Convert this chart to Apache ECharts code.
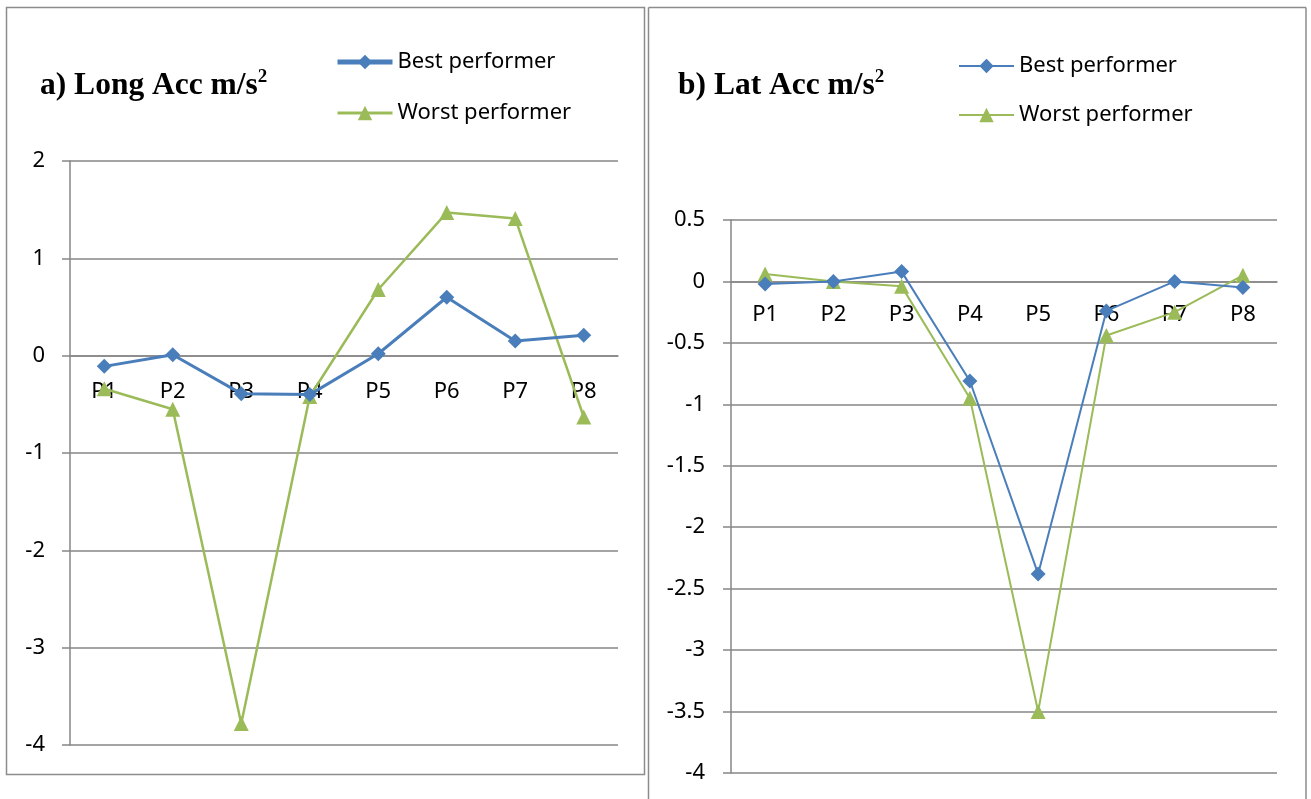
<!DOCTYPE html>
<html><head><meta charset="utf-8">
<script src="https://cdn.jsdelivr.net/npm/echarts@6/dist/echarts.min.js"></script>
<style>html,body{margin:0;padding:0;background:#fff}#c{width:1311px;height:799px}</style>
</head><body><div id="c"></div>
<script>
const categories = ['P1','P2','P3','P4','P5','P6','P7','P8'];
const longBest  = [-0.11, 0.01, -0.39, -0.40, 0.02, 0.60, 0.15, 0.21];
const longWorst = [-0.34, -0.55, -3.78, -0.42, 0.68, 1.47, 1.41, -0.63];
const latBest   = [-0.02, 0.00, 0.08, -0.81, -2.38, -0.24, 0.00, -0.05];
const latWorst  = [0.06, 0.00, -0.04, -0.95, -3.50, -0.44, -0.25, 0.05];
const seriesNames = ['Best performer','Worst performer'];
const titleMain = ['a) Long Acc m/s','b) Lat Acc m/s'];
const titleSup = '2';

const BLUE = '#4A7EBB', GREEN = '#9BBB59', GRID = '#868686';
const FONT = 'Noto Sans';

// grid geometry
const G = [
  {left:70, right:618, top:161, bottom:745, min:-4, max:2, interval:1, labelMargin:25, yMargin:25},
  {left:731, right:1277, top:220, bottom:773, min:-4, max:0.5, interval:0.5, labelMargin:22, yMargin:26}
];
function zeroOffset(g){
  const zeroY = g.top + (g.max - 0) / (g.max - g.min) * (g.bottom - g.top);
  return zeroY - g.bottom;
}

function xAxis(i){
  const g = G[i];
  return {type:'category', gridIndex:i, data:categories, boundaryGap:true, position:'bottom',
    offset: zeroOffset(g),
    axisLine:{show:true, onZero:false, lineStyle:{color:GRID,width:1.5}},
    axisTick:{show:false},
    axisLabel:{color:'#000', fontFamily:FONT, fontSize:22, margin:g.labelMargin}};
}
function yAxis(i){
  const g = G[i];
  return {type:'value', gridIndex:i, min:g.min, max:g.max, interval:g.interval,
    axisLine:{show:true, lineStyle:{color:GRID,width:1.5}},
    axisTick:{show:true, length:8, lineStyle:{color:GRID,width:1.5}},
    splitLine:{show:true, lineStyle:{color:GRID,width:1.5}},
    axisLabel:{color:'#000', fontFamily:FONT, fontSize:22, margin:g.yMargin}};
}
function line(name,data,i,color,symbol,width,size){
  return {name, type:'line', xAxisIndex:i, yAxisIndex:i, data, symbol, symbolSize:size,
    lineStyle:{color,width}, itemStyle:{color}, z: name===seriesNames[0]?3:2};
}
function title(i,left,top){
  return {text:'{m|'+titleMain[i]+'}{s|'+titleSup+'}', left, top,
    textStyle:{rich:{
      m:{fontFamily:'Liberation Serif', fontWeight:'bold', fontSize:31.5, color:'#000', lineHeight:34, verticalAlign:'bottom'},
      s:{fontFamily:'Liberation Serif', fontWeight:'bold', fontSize:19, color:'#000', lineHeight:34, verticalAlign:'top'}
    }}};
}

const chart = echarts.init(document.getElementById('c'), null, {renderer:'canvas'});
chart.setOption({
  animation:false,
  backgroundColor:'#fff',
  title:[title(0,35,63), title(1,673,63)],
  legend:[
    {orient:'vertical', left:330, top:46, itemWidth:55, itemHeight:18, itemGap:29,
     textStyle:{fontFamily:FONT, fontSize:22, color:'#000'},
     data:[{name:seriesNames[0], lineStyle:{width:5}},{name:seriesNames[1], lineStyle:{width:3}}]},
    {orient:'vertical', left:953, top:50, itemWidth:55, itemHeight:18, itemGap:27,
     textStyle:{fontFamily:FONT, fontSize:22, color:'#000'},
     data:[{name:seriesNames[0], lineStyle:{width:2}},{name:seriesNames[1], lineStyle:{width:2}}]}
  ],
  grid:G.map(g=>({left:g.left, right:1311-g.right, top:g.top, bottom:799-g.bottom})),
  xAxis:[xAxis(0), xAxis(1)],
  yAxis:[yAxis(0), yAxis(1)],
  series:[
    line(seriesNames[0], longBest, 0, BLUE, 'diamond', 3, 15),
    line(seriesNames[1], longWorst, 0, GREEN, 'triangle', 2.5, 15),
    line(seriesNames[0], latBest, 1, BLUE, 'diamond', 2, 15),
    line(seriesNames[1], latWorst, 1, GREEN, 'triangle', 2, 15)
  ],
  graphic:[
    {type:'rect', shape:{x:6.5, y:7.5, width:638, height:767}, style:{fill:null, stroke:'#8c8c8c', lineWidth:1.5}, silent:true},
    {type:'line', shape:{x1:648.5, y1:7.5, x2:648.5, y2:799}, style:{stroke:'#8c8c8c', lineWidth:1.5}, silent:true},
    {type:'line', shape:{x1:648.5, y1:7.5, x2:1306, y2:7.5}, style:{stroke:'#8c8c8c', lineWidth:1.5}, silent:true},
    {type:'line', shape:{x1:1306, y1:7.5, x2:1306, y2:799}, style:{stroke:'#8c8c8c', lineWidth:1.5}, silent:true}
  ]
});
</script></body></html>
